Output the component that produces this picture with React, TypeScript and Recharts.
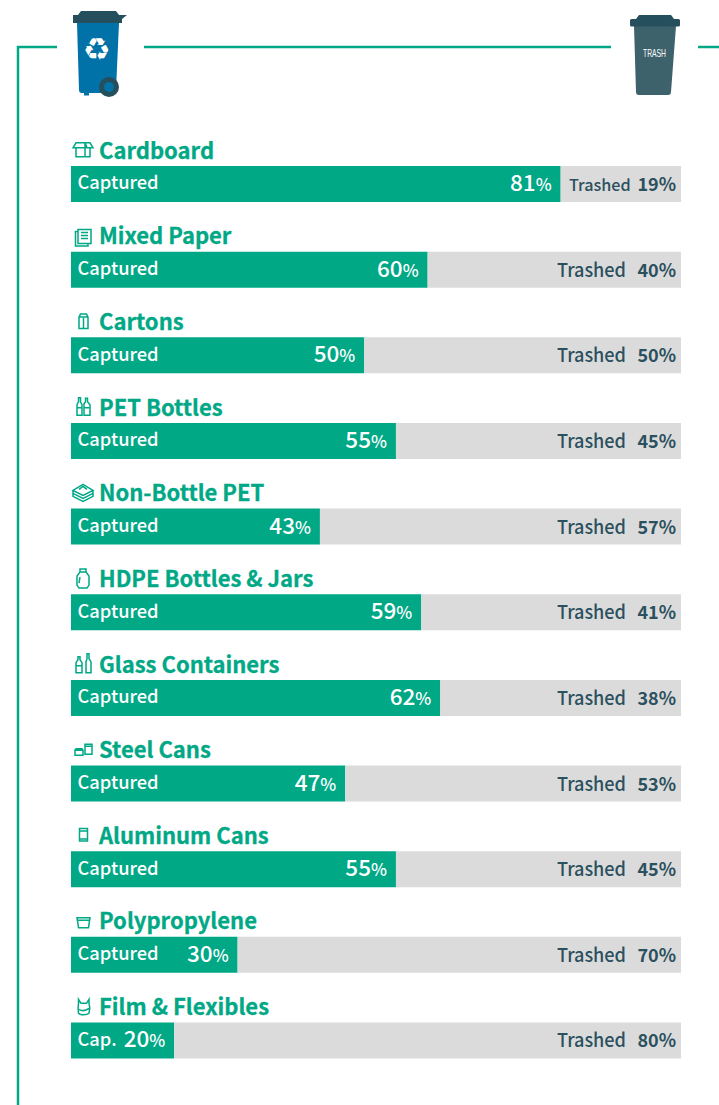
import { Bar, BarChart, LabelList, XAxis, YAxis } from "recharts";

const categories = [
  "Cardboard",
  "Mixed Paper",
  "Cartons",
  "PET Bottles",
  "Non-Bottle PET",
  "HDPE Bottles & Jars",
  "Glass Containers",
  "Steel Cans",
  "Aluminum Cans",
  "Polypropylene",
  "Film & Flexibles",
];
const capturedValues = [81, 60, 50, 55, 43, 59, 62, 47, 55, 30, 20];
const trashedValues = [19, 40, 50, 45, 57, 41, 38, 53, 45, 70, 80];
const capturedNames = [
  "Captured", "Captured", "Captured", "Captured", "Captured", "Captured",
  "Captured", "Captured", "Captured", "Captured", "Cap.",
];

const data = categories.map((name, i) => ({
  name,
  captured: capturedValues[i],
  trashed: trashedValues[i],
}));

const GREEN = "#00a886";
const GREY = "#dbdbdb";
const SLATE = "#2b505e";
const FONT = '"Noto Sans CJK SC", "Noto Sans", sans-serif';

// Little outline icons next to the titles, 30px box above each bar.
const iconPaths: string[] = [
  "M5 12V21H19V12M2 12L5 7H19L22 12ZM14 7V21M14 7L16 12",
  "M7 8H20V22H7ZM10 11H17M10 14H17M10 17H17M7 10H4.5V24.5H17V22",
  "M8 10V21.5H17V10L15.5 7H9.5ZM8 10H17M12.5 11V21",
  "M6 22.5V12L7.5 9V5H9.5V9L11 12V22.5ZM13 22.5V11L14.5 9V5.5H16.5V9L19 12V22.5ZM6 15H11M13 15H19",
  "M12 6L22 12L12 17L2 12ZM2 12V15L12 20L22 15V12M2 15V18L12 23L22 18V15M8 11L12 8L16 11",
  "M9 5H15V8L18 12V21L16 24H8L6 21V12L9 8ZM9 8H15M9 13L8 19",
  "M5 23V13L7 10V7H9V10L11 13V23ZM15 23V12L16 9V4H18V9L20 12V23ZM5 16H11",
  "M4 15H12V20H4ZM4 15L5 13.5H11L12 15M14 9H21V19H14ZM14 11H21",
  "M8.5 7.5H16.5V20H8.5ZM8.5 10H16.5M8.5 18H16.5",
  "M6 11H19L17.5 21H7.5ZM6.5 13.5H18.5",
  "M7.5 7V11C7 14 7 18 7.5 21C9 23 16 23 18 21C19 18 19 14 18 11V7L15.5 11H10ZM8 17C11 19 14 19 18 16",
];

function TitleTick({ x, y, payload, index }: any) {
  // y is the band centre, the title sits above the 36px bar
  const top = y - 18;
  const i = payload.index ?? index;
  return (
    <g>
      <g transform={`translate(71 ${top - 30})`} fill="none" stroke={GREEN} strokeWidth={1.5}>
        <path d={iconPaths[i]} />
      </g>
      <text
        x={99}
        y={top - 7.2}
        fontFamily={FONT}
        fontSize={22}
        fontWeight={700}
        fill={GREEN}
        stroke={GREEN}
        strokeWidth={0.3}
      >
        {payload.value}
      </text>
    </g>
  );
}

function CapturedLabel({ x, y, width, height, value, index }: any) {
  const right = x + width - 9;
  const base = y + height / 2 + 7;
  return (
    <g fontFamily={FONT} fill="#fff">
      <text x={77.5} y={base - 1.5} fontSize={18.3} fontWeight={500}>
        {capturedNames[index]}
      </text>
      <text x={right} y={base} textAnchor="end" fontWeight={500}>
        <tspan fontSize={22.5}>{value}</tspan>
        <tspan fontSize={17}>%</tspan>
      </text>
    </g>
  );
}

function TrashedLabel({ x, y, width, height, value, index }: any) {
  const right = x + width;
  const base = y + height / 2 + 7;
  // first row has little room, the word is smaller there
  const tight = index === 0;
  return (
    <g fontFamily={FONT} fill={SLATE}>
      <text
        x={tight ? 569 : 557}
        y={base}
        fontSize={tight ? 16.2 : 19}
        fontWeight={500}
        textLength={tight ? undefined : 69}
        lengthAdjust={tight ? undefined : "spacingAndGlyphs"}
      >
        Trashed
      </text>
      <text x={right - 5} y={base} textAnchor="end" fontSize={18} fontWeight={700}>
        {value}%
      </text>
    </g>
  );
}

function Header() {
  return (
    <svg width={719} height={1105} style={{ position: "absolute", left: 0, top: 0 }}>
      <g stroke={GREEN} strokeWidth={2.5} fill="none">
        <path d="M57 47H18V1105" />
        <path d="M144 47H611" />
        <path d="M698 47H719" />
      </g>

      {/* recycling bin */}
      <path d="M77 23H119L116 90Q116 93 113 93H82Q79 93 79 90Z" fill="#0072a8" />
      <rect x={84} y={92} width={5} height={3.5} fill="#0072a8" />
      <path d="M78 15L81 11H116L119 15Z" fill="#264f5e" />
      <path d="M73 15H127L122 19V23H73Z" fill="#264f5e" />
      <circle cx={109} cy={87} r={10} fill="#264f5e" />
      <circle cx={109} cy={87} r={5} fill="#0072a8" />
      <text x={97} y={60} textAnchor="middle" fontFamily="DejaVu Sans" fontSize={31} fill="#fff">
        ♻
      </text>

      {/* trash bin */}
      <path d="M634 26H676L671 92Q671 95 668 95H639Q636 95 636 92Z" fill="#3e626c" />
      <path d="M636 19L639 15H671L674 19Z" fill="#264f5e" />
      <rect x={630} y={19} width={50} height={7.5} rx={1.5} fill="#264f5e" />
      <text
        x={643}
        y={57}
        fontFamily='"Liberation Sans Narrow", "Liberation Sans", sans-serif'
        fontSize={10.5}
        fill="#fff"
        textLength={23}
        lengthAdjust="spacingAndGlyphs"
      >
        TRASH
      </text>
    </svg>
  );
}

export default function App() {
  return (
    <div style={{ position: "absolute", left: 0, top: 0, width: 719, height: 1105, background: "#fff" }}>
      <Header />
      <div style={{ position: "absolute", left: 0, top: 0 }}>
        <BarChart
          width={719}
          height={1105}
          data={data}
          layout="vertical"
          barSize={36}
          margin={{ top: 140.975, right: 38, bottom: 21.875, left: 0 }}
        >
          {/* the axis starts a bit above zero, the bars are cut off at its left end */}
          <XAxis type="number" hide domain={[3.7, 100]} allowDataOverflow />
          <YAxis
            type="category"
            dataKey="name"
            width={71}
            axisLine={false}
            tickLine={false}
            interval={0}
            tick={TitleTick}
          />
          <Bar dataKey="captured" stackId="a" fill={GREEN} isAnimationActive={false}>
            <LabelList dataKey="captured" content={CapturedLabel} />
          </Bar>
          <Bar dataKey="trashed" stackId="a" fill={GREY} isAnimationActive={false}>
            <LabelList dataKey="trashed" content={TrashedLabel} />
          </Bar>
        </BarChart>
      </div>
    </div>
  );
}
